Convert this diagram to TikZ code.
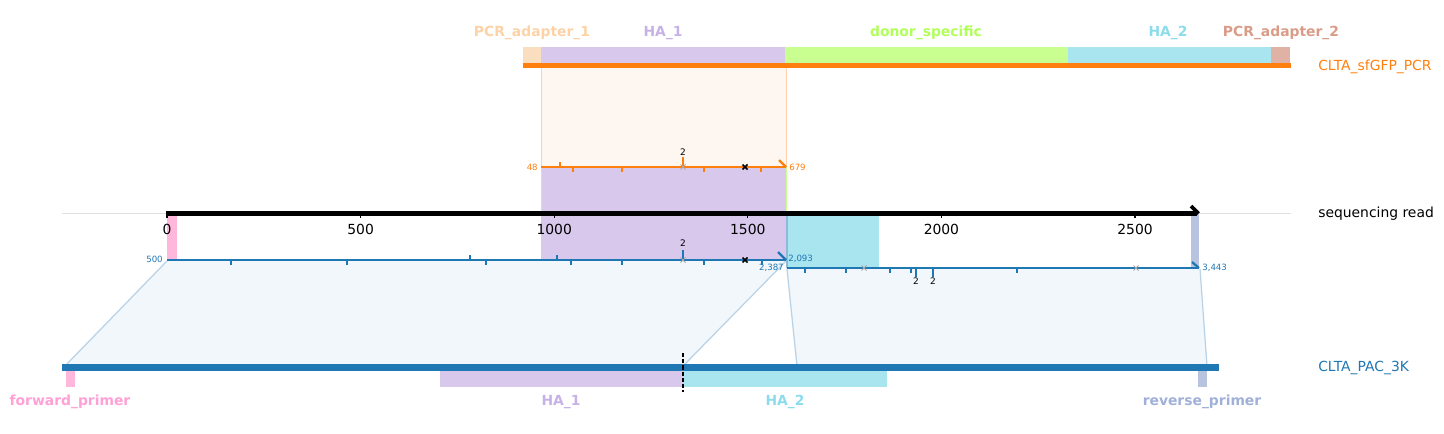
\documentclass[tikz,border=0pt]{standalone}
\usepackage{fontspec}
\setmainfont{DejaVu Sans}
\definecolor{corange}{HTML}{FF7F0E}
\definecolor{cblue}{HTML}{1F77B4}
\definecolor{fpadA}{HTML}{F9DEC0}
\definecolor{tpadA}{HTML}{FCD2A6}
\definecolor{fhaA}{HTML}{D8C8EB}
\definecolor{thaA}{HTML}{C6B2E6}
\definecolor{fdonor}{HTML}{C8FF90}
\definecolor{tdonor}{HTML}{B0FF5A}
\definecolor{fhaB}{HTML}{A8E5EF}
\definecolor{thaB}{HTML}{8CDCEC}
\definecolor{fpadB}{HTML}{E0B2A6}
\definecolor{tpadB}{HTML}{D99C88}
\definecolor{ffwd}{HTML}{FFB8DC}
\definecolor{tfwd}{HTML}{FFA0D6}
\definecolor{frev}{HTML}{B8C4DF}
\definecolor{trev}{HTML}{A0B0D8}
\definecolor{pale}{HTML}{F2F7FB}
\definecolor{paleedge}{HTML}{B8D3E8}
\definecolor{paleor}{HTML}{FEF6F0}
\definecolor{oredge}{HTML}{FCD3AE}
\definecolor{midblue}{HTML}{8DB9DC}
\definecolor{xgrey}{HTML}{A8A8A8}
\newcommand\crossmk[3]{\draw[#3] (#1-2.5,#2-2.5)--(#1+2.5,#2+2.5) (#1-2.5,#2+2.5)--(#1+2.5,#2-2.5);}
\tikzset{
  flab/.style={font=\fontsize{10}{12}\selectfont\bfseries, inner sep=0pt, anchor=base},
  tlab/.style={font=\fontsize{10}{12}\selectfont, inner sep=0pt, anchor=base},
  slab/.style={font=\fontsize{6.2}{7}\selectfont, inner sep=0pt},
  nlab/.style={font=\fontsize{6.5}{7}\selectfont, inner sep=0pt},
  otick/.style={corange, line width=1.3pt},
  btick/.style={cblue, line width=1.3pt},
  aln/.style={line width=1.6pt},
  bx/.style={black, line width=1.2pt},
  gx/.style={xgrey, line width=0.7pt},
}
\begin{document}
\begin{tikzpicture}[x=0.72pt,y=-0.72pt]
\useasboundingbox (0,0) rectangle (1444,434);
% mapping polygons
\fill[paleor] (541,68) rectangle (786,167);
\draw[oredge, line width=0.72pt] (541,68) -- (541,213) (786,68) -- (786,167);
\fill[pale] (167,260) -- (786,260) -- (683,367) -- (64,367) -- cycle;
\draw[paleedge, line width=0.9pt] (167,261) -- (65,366) (786,261) -- (683,366);
\fill[pale] (787,268) -- (1199,268) -- (1207,367) -- (797,367) -- cycle;
\draw[paleedge, line width=0.9pt] (787,269) -- (797,366) (1200,269) -- (1207,366);
% projections on read
\fill[fhaA] (541,167) rectangle (786,260);
\draw[oredge, line width=0.72pt] (541,167) -- (541,213);
\draw[fdonor, line width=1pt] (786.5,167) -- (786.5,213);
\fill[fhaB] (787,213) rectangle (879,268);
\draw[midblue, line width=0.9pt] (787,213) -- (787,268);
\fill[ffwd] (167,215) rectangle (177,260);
\fill[frev] (1191,213) rectangle (1199,268);
% top PCR features
\fill[fpadA] (523,47) rectangle (541,63);
\fill[fhaA] (541,47) rectangle (785,63);
\fill[fdonor] (785,47) rectangle (1068,63);
\fill[fhaB] (1068,47) rectangle (1271,63);
\fill[fpadB] (1271,47) rectangle (1290,63);
\fill[corange] (523,62.7) rectangle (1291,68.5);
\node[flab, text=tpadA] (tpa1) at (532,37) {PCR\_adapter\_1};
\node[flab, text=thaA] (tha1) at (663,37) {HA\_1};
\node[flab, text=tdonor] (tdon) at (926,37) {donor\_specific};
\node[flab, text=thaB] (tha2) at (1168,37) {HA\_2};
\node[flab, text=tpadB] (tpa2) at (1281,37) {PCR\_adapter\_2};
\node[tlab, text=corange, anchor=base west] (lpcr) at (1318,70.5) {CLTA\_sfGFP\_PCR};
% orange alignment
\draw[corange, aln] (541,167) -- (786,167);
\draw[corange, aln] (779,160) -- (786,167);
\foreach \x/\d in {560/-5, 573/5, 622/5, 704/5, 761/5} \draw[otick] (\x,167) -- ++(0,\d);
\draw[otick] (683,167) -- (683,157);
\crossmk{683}{167}{gx}
\crossmk{745}{167}{bx}
\node[nlab] (o2) at (683,152) {2};
\node[slab, text=corange, anchor=east] (l48) at (538,167) {48};
\node[slab, text=corange, anchor=west] (l679) at (789,167) {679};
% sequencing read
\draw[black!12, line width=0.72pt] (62,213.5) -- (1291,213.5);
\draw[black, line width=2.9pt] (166,213.5) -- (1197,213.5);
\draw[black, line width=2.6pt] (1191,206) -- (1198.5,213.5);
\foreach \p/\l in {0/0,500/500,1000/1000,1500/1500,2000/2000,2500/2500} {
  \draw[black, line width=0.8pt] ({167+0.3872*\p},215) -- ++(0,3.5);
  \node[tlab] (rt\p) at ({167+0.3872*\p},234.5) {\l};
}
\node[tlab, anchor=base west] (lread) at (1318,218) {sequencing read};
% blue alignment 1
\draw[cblue, aln] (167,260) -- (786,260);
\draw[cblue, aln] (778,252) -- (786,260);
\foreach \x/\d in {231/5, 347/5, 470/-5, 486/5, 557/-5, 571/5, 622/5, 704/5, 762/5} \draw[btick] (\x,260) -- ++(0,\d);
\draw[btick] (683,260) -- (683,250);
\crossmk{683}{260}{gx}
\crossmk{745}{260}{bx}
\node[nlab] (b2) at (683,243.5) {2};
\node[slab, text=cblue, anchor=east] (l500) at (163,259) {500};
\node[slab, text=cblue, anchor=west] (l2093) at (788,259) {2,093};
% blue alignment 2
\draw[cblue, aln] (787,268) -- (1199,268);
\draw[cblue, aln] (1192,262) -- (1199,268);
\foreach \x in {805, 846, 890, 910.7, 1017} \draw[btick] (\x,268) -- ++(0,5);
\draw[btick] (916,268) -- ++(0,9);
\draw[btick] (933,268) -- ++(0,9);
\crossmk{864}{268}{gx}
\crossmk{1136}{268}{gx}
\node[nlab] (c2a) at (916,281) {2};
\node[nlab] (c2b) at (933,281) {2};
\node[slab, text=cblue, anchor=east] (l2387) at (784,268) {2,387};
\node[slab, text=cblue, anchor=west] (l3443) at (1202,268) {3,443};
% CLTA_PAC_3K
\fill[cblue] (62,364) rectangle (1219,371);
\fill[ffwd] (66,371) rectangle (75,387);
\fill[fhaA] (440,371) rectangle (683,387);
\fill[fhaB] (683,371) rectangle (887,387);
\fill[frev] (1198,371) rectangle (1206.5,387);
\draw[black, line width=0.8pt, dash pattern=on 3pt off 1.5pt] (683,353) -- (683,392);
\node[tlab, text=cblue, anchor=base west] (lpac) at (1318,372) {CLTA\_PAC\_3K};
\node[flab, text=tfwd] (tfw) at (70,405) {forward\_primer};
\node[flab, text=thaA] (thb1) at (561,405) {HA\_1};
\node[flab, text=thaB] (thb2) at (785,405) {HA\_2};
\node[flab, text=trev] (trv) at (1202,405) {reverse\_primer};
\end{tikzpicture}
\end{document}
